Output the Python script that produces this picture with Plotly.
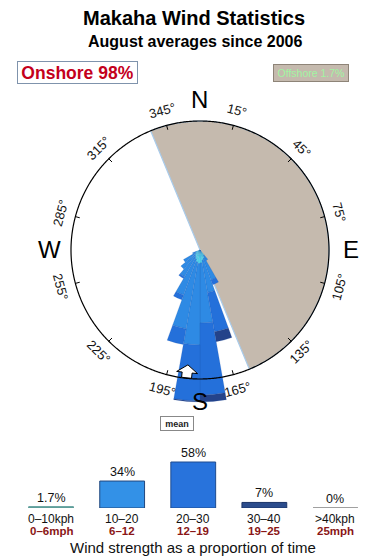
import math
import numpy as np
import plotly.graph_objects as go

# ---------------- data ----------------
title = "Makaha Wind Statistics"
subtitle = "August averages since 2006"
onshore_label = "Onshore 98%"
offshore_label = "Offshore 1.7%"

# wind rose: 10-degree direction bins (centre bearing) and radial length of each
# speed band, in units where the compass ring = 100
rose_dirs = [145, 155, 165, 175, 185, 195, 205, 215, 225, 235, 245]
rose_0_10 = [5.0, 7.0, 8.0, 10.0, 10.5, 9.5, 7.5, 6.0, 5.0, 4.0, 3.1]
rose_10_20 = [4.4, 17.8, 25.4, 46.6, 63.1, 52.5, 29.7, 18.0, 14.4, 10.8, 3.1]
rose_20_30 = [0, 3.9, 31.0, 55.8, 43.4, 12.4, 3.9, 1.6, 0, 0, 0]
rose_30_40 = [0, 0, 7.8, 5.4, 0.8, 0, 0, 0, 0, 0, 0]
bin_width = 10

offshore_start = 337.5   # offshore sector, clockwise from ...
offshore_end = 157.5     # ... to
mean_dir = 186           # mean wind direction (degrees)

ring_value = 100
degree_ticks = [15, 45, 75, 105, 135, 165, 195, 225, 255, 285, 315, 345]
cardinal_dirs = [0, 90, 180, 270]
cardinal_names = ["N", "E", "S", "W"]

speed_kph = ["0\u201310kph", "10\u201320", "20\u201330", "30\u201340", ">40kph"]
speed_mph = ["0\u20136mph", "6\u201312", "12\u201319", "19\u201325", "25mph"]
speed_pct = [1.7, 34, 58, 7, 0]
speed_pct_text = ["1.7%", "34%", "58%", "7%", "0%"]

# ---------------- styling / geometry ----------------
W, H = 390, 560
FONT = "Liberation Sans, Arial, Helvetica, sans-serif"
cx, cy = 200.0, 250.0          # compass centre (px)
ring_px = 129.0                # compass ring radius (px)
r_max = 125.0                  # radial axis max
R_px = ring_px * r_max / ring_value

rose_colors = ["#55E0F0", "#2E8AE4", "#2470DA", "#24438A"]
bar_fill = ["#5E9E9A", "#3391E7", "#2873DC", "#2B4C8C", "#A0A0A0"]
bar_line = ["#5E9E9A", "#22487E", "#1E4C90", "#1B3468", "#A0A0A0"]


def polar_to_paper(theta_deg, r):
    t = math.radians(theta_deg)
    rp = r / r_max * R_px
    px = cx + rp * math.sin(t)
    py = cy - rp * math.cos(t)
    return px / W, 1 - py / H


def label(x, y, text, **kw):
    d = dict(x=x, y=y, xref="paper", yref="paper", text=text, showarrow=False,
             xanchor="center", yanchor="middle")
    d.update(kw)
    return d


fig = go.Figure()

# offshore sector
span = (offshore_end - offshore_start) % 360
fig.add_trace(go.Barpolar(
    r=[ring_value], theta=[(offshore_start + span / 2) % 360], width=[span],
    marker=dict(color="#C5BAAE", line=dict(color="#A9CBEA", width=1.2)),
    hoverinfo="skip", showlegend=False))

# rose bands
for vals, col in zip([rose_0_10, rose_10_20, rose_20_30, rose_30_40], rose_colors):
    fig.add_trace(go.Barpolar(
        r=vals, theta=rose_dirs, width=[bin_width] * len(rose_dirs),
        marker=dict(color=col, line=dict(color="rgba(30,80,170,0.35)", width=0.5)),
        showlegend=False))

# compass ring
ring_theta = np.linspace(0, 360, 721)
fig.add_trace(go.Scatterpolar(
    r=[ring_value] * len(ring_theta), theta=ring_theta, mode="lines",
    line=dict(color="black", width=1.2), hoverinfo="skip", showlegend=False))

# tick marks
tr, tt = [], []
for a in degree_ticks:
    tr += [ring_value, ring_value * 0.965, None]
    tt += [a, a, None]
fig.add_trace(go.Scatterpolar(
    r=tr, theta=tt, mode="lines", line=dict(color="black", width=1),
    hoverinfo="skip", showlegend=False))

fig.update_layout(polar=dict(
    domain=dict(x=[(cx - R_px) / W, (cx + R_px) / W],
                y=[1 - (cy + R_px) / H, 1 - (cy - R_px) / H]),
    bgcolor="rgba(0,0,0,0)",
    radialaxis=dict(visible=False, range=[0, r_max]),
    angularaxis=dict(visible=False, rotation=90, direction="clockwise"),
    barmode="stack"))

annotations = []

# degree labels
for a in degree_ticks:
    x, y = polar_to_paper(a, ring_value * 144 / 129)
    if a <= 90:
        ang = a
    elif a < 270:
        ang = a - 180
    else:
        ang = a - 360
    annotations.append(label(x, y, f"{a}\u00b0", textangle=ang,
                             font=dict(family=FONT, size=13, color="#111")))

# cardinal labels
for a, name in zip(cardinal_dirs, cardinal_names):
    x, y = polar_to_paper(a, ring_value * 151 / 129)
    annotations.append(label(x, y, name, font=dict(family=FONT, size=24, color="black")))

# titles
annotations.append(label(193.5 / W, 1 - 18 / H, f"<b>{title}</b>",
                         font=dict(family=FONT, size=20, color="black")))
annotations.append(label(194.5 / W, 1 - 42 / H, f"<b>{subtitle}</b>",
                         font=dict(family=FONT, size=16, color="black")))

# onshore / offshore boxes
annotations.append(label(77.5 / W, 1 - 73 / H, f"<b>{onshore_label}</b>",
                         font=dict(family=FONT, size=17.5, color="#C4001C"),
                         bordercolor="#7F93AC", borderwidth=1, borderpad=1,
                         bgcolor="white", width=117, height=19))
annotations.append(label(311 / W, 1 - 73.5 / H, offshore_label,
                         font=dict(family=FONT, size=10.5, color="#A2F5A2"),
                         bordercolor="#8E8478", borderwidth=1, borderpad=1,
                         bgcolor="#C5BAAE", width=72, height=14))

# mean label
annotations.append(label(176.5 / W, 1 - 423.5 / H, "<b>mean</b>",
                         font=dict(family=FONT, size=9, color="#222"),
                         bordercolor="#888", borderwidth=1, borderpad=1,
                         bgcolor="white", width=30, height=11))

# mean direction arrow (icon shape anchored at mean direction on the ring)
ax_, ay_ = polar_to_paper(mean_dir, ring_value * 122 / 129)
icon = [(0, 6.5), (10.5, -1.2), (5, -1.2), (5, -6.5), (-5, -6.5), (-5, -1.2), (-10.5, -1.2)]
rot = math.radians(mean_dir - 180)
pts = [(px * math.cos(rot) + py * math.sin(rot), -px * math.sin(rot) + py * math.cos(rot)) for px, py in icon]
path = "M" + " L".join(f"{p[0]:.2f},{p[1]:.2f}" for p in pts) + " Z"
shapes = [dict(type="path", xref="paper", yref="paper", xsizemode="pixel", ysizemode="pixel",
               xanchor=ax_, yanchor=ay_, path=path, fillcolor="white",
               line=dict(color="black", width=1), layer="above")]

# ---------------- speed bar chart ----------------
xs = list(range(len(speed_pct)))
bar_w = 0.63
fig.add_trace(go.Bar(
    x=xs, y=speed_pct, width=bar_w, xaxis="x", yaxis="y",
    marker=dict(color=bar_fill, line=dict(color=bar_line, width=1)),
    hoverinfo="skip", showlegend=False))

# zero-height bars shown as a baseline stroke
for i, v in enumerate(speed_pct):
    if v == 0:
        shapes.append(dict(type="line", xref="x", yref="y", x0=i - bar_w / 2, x1=i + bar_w / 2,
                           y0=0, y1=0, line=dict(color=bar_fill[i], width=2)))

x_dom = [15.5 / W, 371.0 / W]
y_base_px, y_range = 508.0, 70.0
px_per_pct = 46.0 / 58.0
y_dom = [1 - y_base_px / H, 1 - (y_base_px - px_per_pct * y_range) / H]
fig.update_layout(
    xaxis=dict(domain=x_dom, range=[-0.5, len(xs) - 0.5], visible=False, fixedrange=True),
    yaxis=dict(domain=y_dom, range=[0, y_range], visible=False, fixedrange=True),
)

for i, t in enumerate(speed_pct_text):
    annotations.append(dict(x=i, y=speed_pct[i], xref="x", yref="y", text=t, showarrow=False,
                            xanchor="center", yanchor="middle", yshift=9,
                            font=dict(family=FONT, size=12.5, color="#111")))
    annotations.append(dict(x=i, y=1 - 518.5 / H, xref="x", yref="paper", text=speed_kph[i],
                            showarrow=False, xanchor="center", yanchor="middle",
                            font=dict(family=FONT, size=12, color="#111")))
    annotations.append(dict(x=i, y=1 - 531 / H, xref="x", yref="paper", text=f"<b>{speed_mph[i]}</b>",
                            showarrow=False, xanchor="center", yanchor="middle",
                            font=dict(family=FONT, size=11.5, color="#8A1616")))

annotations.append(label(193 / W, 1 - 547 / H, "Wind strength as a proportion of time",
                         font=dict(family=FONT, size=15, color="#111")))

fig.update_layout(
    width=W, height=H, margin=dict(l=0, r=0, t=0, b=0),
    paper_bgcolor="white", plot_bgcolor="white",
    annotations=annotations, shapes=shapes, showlegend=False,
    font=dict(family=FONT),
)

fig.write_html("out.html", config={"displayModeBar": False})
